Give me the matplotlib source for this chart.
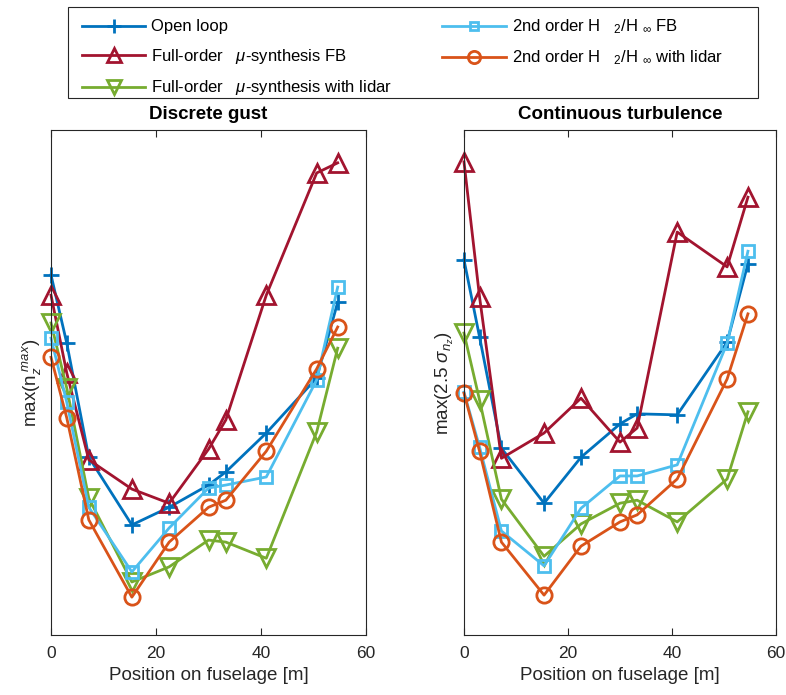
import numpy as np
import matplotlib
matplotlib.use('Agg')
import matplotlib.pyplot as plt
from matplotlib.patches import Rectangle

plt.rcParams['font.family'] = ['Liberation Sans', 'DejaVu Sans']
plt.rcParams['mathtext.fontset'] = 'custom'
plt.rcParams['mathtext.rm'] = 'Liberation Sans'
plt.rcParams['mathtext.it'] = 'Liberation Sans:italic'

# sensor positions along the fuselage [m]
position = [0, 3.0, 7.2, 15.4, 22.5, 30.0, 33.3, 41.0, 50.6, 54.6]

# discrete gust (normalised, no y scale in the original)
gust_open_loop = [0.713, 0.578, 0.352, 0.218, 0.253, 0.297, 0.323, 0.400, 0.509, 0.659]
gust_mu_fb = [0.673, 0.519, 0.347, 0.289, 0.261, 0.368, 0.426, 0.673, 0.915, 0.935]
gust_mu_lidar = [0.618, 0.489, 0.271, 0.105, 0.135, 0.188, 0.184, 0.152, 0.402, 0.568]
gust_h2_fb = [0.588, 0.461, 0.253, 0.125, 0.212, 0.291, 0.297, 0.313, 0.505, 0.689]
gust_h2_lidar = [0.550, 0.430, 0.228, 0.075, 0.184, 0.253, 0.267, 0.364, 0.527, 0.610]

# continuous turbulence
turb_open_loop = [0.743, 0.590, 0.370, 0.261, 0.352, 0.418, 0.438, 0.436, 0.580, 0.735]
turb_mu_fb = [0.937, 0.669, 0.350, 0.400, 0.469, 0.382, 0.410, 0.798, 0.729, 0.867]
turb_mu_lidar = [0.598, 0.465, 0.269, 0.156, 0.220, 0.261, 0.267, 0.224, 0.309, 0.442]
turb_h2_fb = [0.481, 0.372, 0.206, 0.137, 0.251, 0.315, 0.315, 0.337, 0.578, 0.760]
turb_h2_lidar = [0.479, 0.364, 0.184, 0.079, 0.176, 0.224, 0.238, 0.309, 0.507, 0.636]

labels = ['Open loop',
          r'Full-order   $\mu$-synthesis FB',
          r'Full-order   $\mu$-synthesis with lidar',
          r'2nd order H   $_2$/H $_\infty$ FB',
          r'2nd order H   $_2$/H $_\infty$ with lidar']
colors = ['#0072BD', '#A2142F', '#77AC30', '#4DBEEE', '#D95319']
markers = ['+', '^', 'v', 's', 'o']
msizes = [12, 13, 13, 8, 11]

gust = [gust_open_loop, gust_mu_fb, gust_mu_lidar, gust_h2_fb, gust_h2_lidar]
turb = [turb_open_loop, turb_mu_fb, turb_mu_lidar, turb_h2_fb, turb_h2_lidar]

fig = plt.figure(figsize=(7.86, 6.95), dpi=100)
ax1 = fig.add_axes([0.0649, 0.0863, 0.4008, 0.7266])
ax2 = fig.add_axes([0.5903, 0.0863, 0.3970, 0.7266])

def draw(ax, data, title, ylabel):
    for vals, c, m, ms, lab in zip(data, colors, markers, msizes, labels):
        ax.plot(position, vals, color=c, marker=m, markersize=ms, linewidth=2,
                markerfacecolor='none', markeredgewidth=2, label=lab, clip_on=False)
    ax.set_xlim(0, 60)
    ax.set_ylim(0, 1)
    ax.set_xticks([0, 20, 40, 60])
    ax.set_yticks([])
    ax.tick_params(axis='x', direction='in', top=True, labelsize=12.5, colors='#262626',
                   length=5, pad=8)
    for s in ax.spines.values():
        s.set_color('#262626')
        s.set_linewidth(0.8)
    ax.set_title(title, fontsize=13.5, fontweight='bold', pad=8)
    ax.set_xlabel('Position on fuselage [m]', fontsize=13.5, color='#262626')
    ax.set_ylabel(ylabel, fontsize=13.5, color='#262626', labelpad=6)

draw(ax1, gust, 'Discrete gust', r'max(n$_z^{\ max}$)')
draw(ax2, turb, 'Continuous turbulence', r'max(2.5 $\sigma_{n_z}$)')

# legend box drawn by hand so it spans the figure like the original
fig.patches.append(Rectangle((0.0865, 0.859), 0.878, 0.131, transform=fig.transFigure,
                             fill=False, edgecolor='#262626', linewidth=0.8))

handles, labs = ax1.get_legend_handles_labels()
leg = fig.legend(handles, labs, ncol=2, loc='upper left',
                 bbox_to_anchor=(0.1043, 0.975), fontsize=12,
                 handlelength=3.8, handletextpad=0.36, markerscale=0.8,
                 frameon=False, borderaxespad=0, borderpad=0,
                 labelspacing=0.75, columnspacing=3.0)

fig.savefig('out.png', dpi=100)
